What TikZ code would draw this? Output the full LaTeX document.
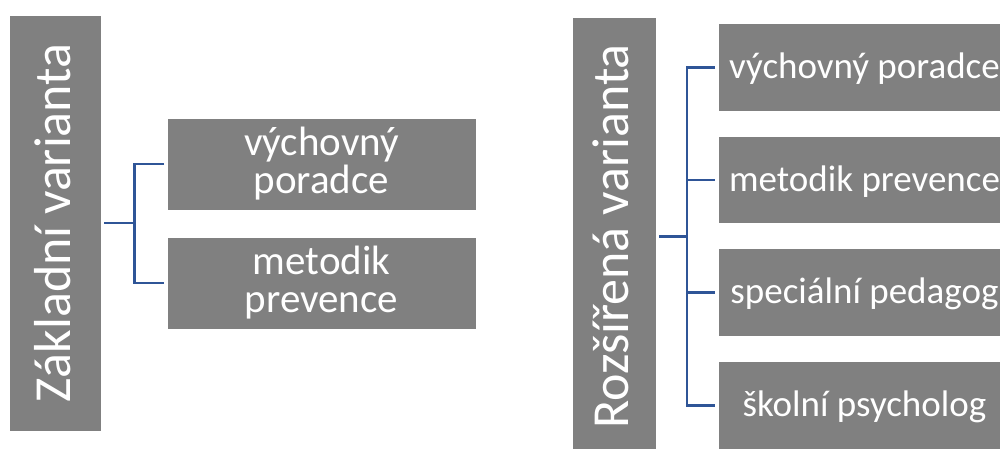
\documentclass[tikz,border=0pt]{standalone}
\usepackage{fontspec}
\setmainfont{Carlito}
\usepackage{graphicx}
\definecolor{boxgray}{RGB}{128,128,128}
\definecolor{linkblue}{RGB}{47,85,151}
\begin{document}
\begin{tikzpicture}[x=1pt,y=-1pt,
  boxstyle/.style={fill=boxgray, draw=white, line width=0.8pt, text=white, inner sep=0pt, outer sep=0pt},
  leftleaf/.style={boxstyle, minimum width=309pt, minimum height=92pt, align=center, font=\fontsize{41}{38}\selectfont},
  rightleaf/.style={boxstyle, minimum width=293pt, minimum height=87.5pt, font=\fontsize{37}{44}\selectfont, text height=30pt, text depth=8pt},
  conn/.style={draw=linkblue, line width=2.2pt}]
\useasboundingbox (0,0) rectangle (1000,448);
\clip (0,0) rectangle (1000,448);
% left group
\node[boxstyle, minimum width=92pt, minimum height=416pt] (L) at (55,223)
  {\rotatebox{90}{\fontsize{52}{60}\selectfont Základní varianta\rule[-6pt]{0pt}{39pt}}};
\node[leftleaf] (L1) at (321.5,164) {výchovný\\poradce};
\node[leftleaf] (L2) at (321.5,283) {metodik\\prevence};
\coordinate (Lj) at (134.5,223);
\draw[conn, shorten <=3pt] (L.east) -- (Lj);
\draw[conn, shorten <=3pt, shorten >=3pt] (L1.west) -| (Lj) |- (L2.west);
% right group
\node[boxstyle, minimum width=84pt, minimum height=439pt] (R) at (614,236.5)
  {\rotatebox{90}{\fontsize{52}{60}\selectfont Rozšířená varianta\rule[-6pt]{0pt}{39pt}}};
\node[rightleaf] (R1) at (864.5,67.5) {výchovný poradce};
\node[rightleaf] (R2) at (864.5,180) {metodik prevence};
\node[rightleaf] (R3) at (864.5,292.5) {speciální pedagog};
\node[rightleaf] (R4) at (864.5,405.5) {školní psycholog};
\coordinate (Rj) at (687,236.5);
\draw[conn, shorten <=3pt] (R.east) -- (Rj);
\draw[conn, shorten <=3pt, shorten >=3pt] (R1.west) -| (Rj) |- (R4.west);
\draw[conn, shorten >=3pt] (Rj |- R2.west) -- (R2.west);
\draw[conn, shorten >=3pt] (Rj |- R3.west) -- (R3.west);
\end{tikzpicture}
\end{document}
